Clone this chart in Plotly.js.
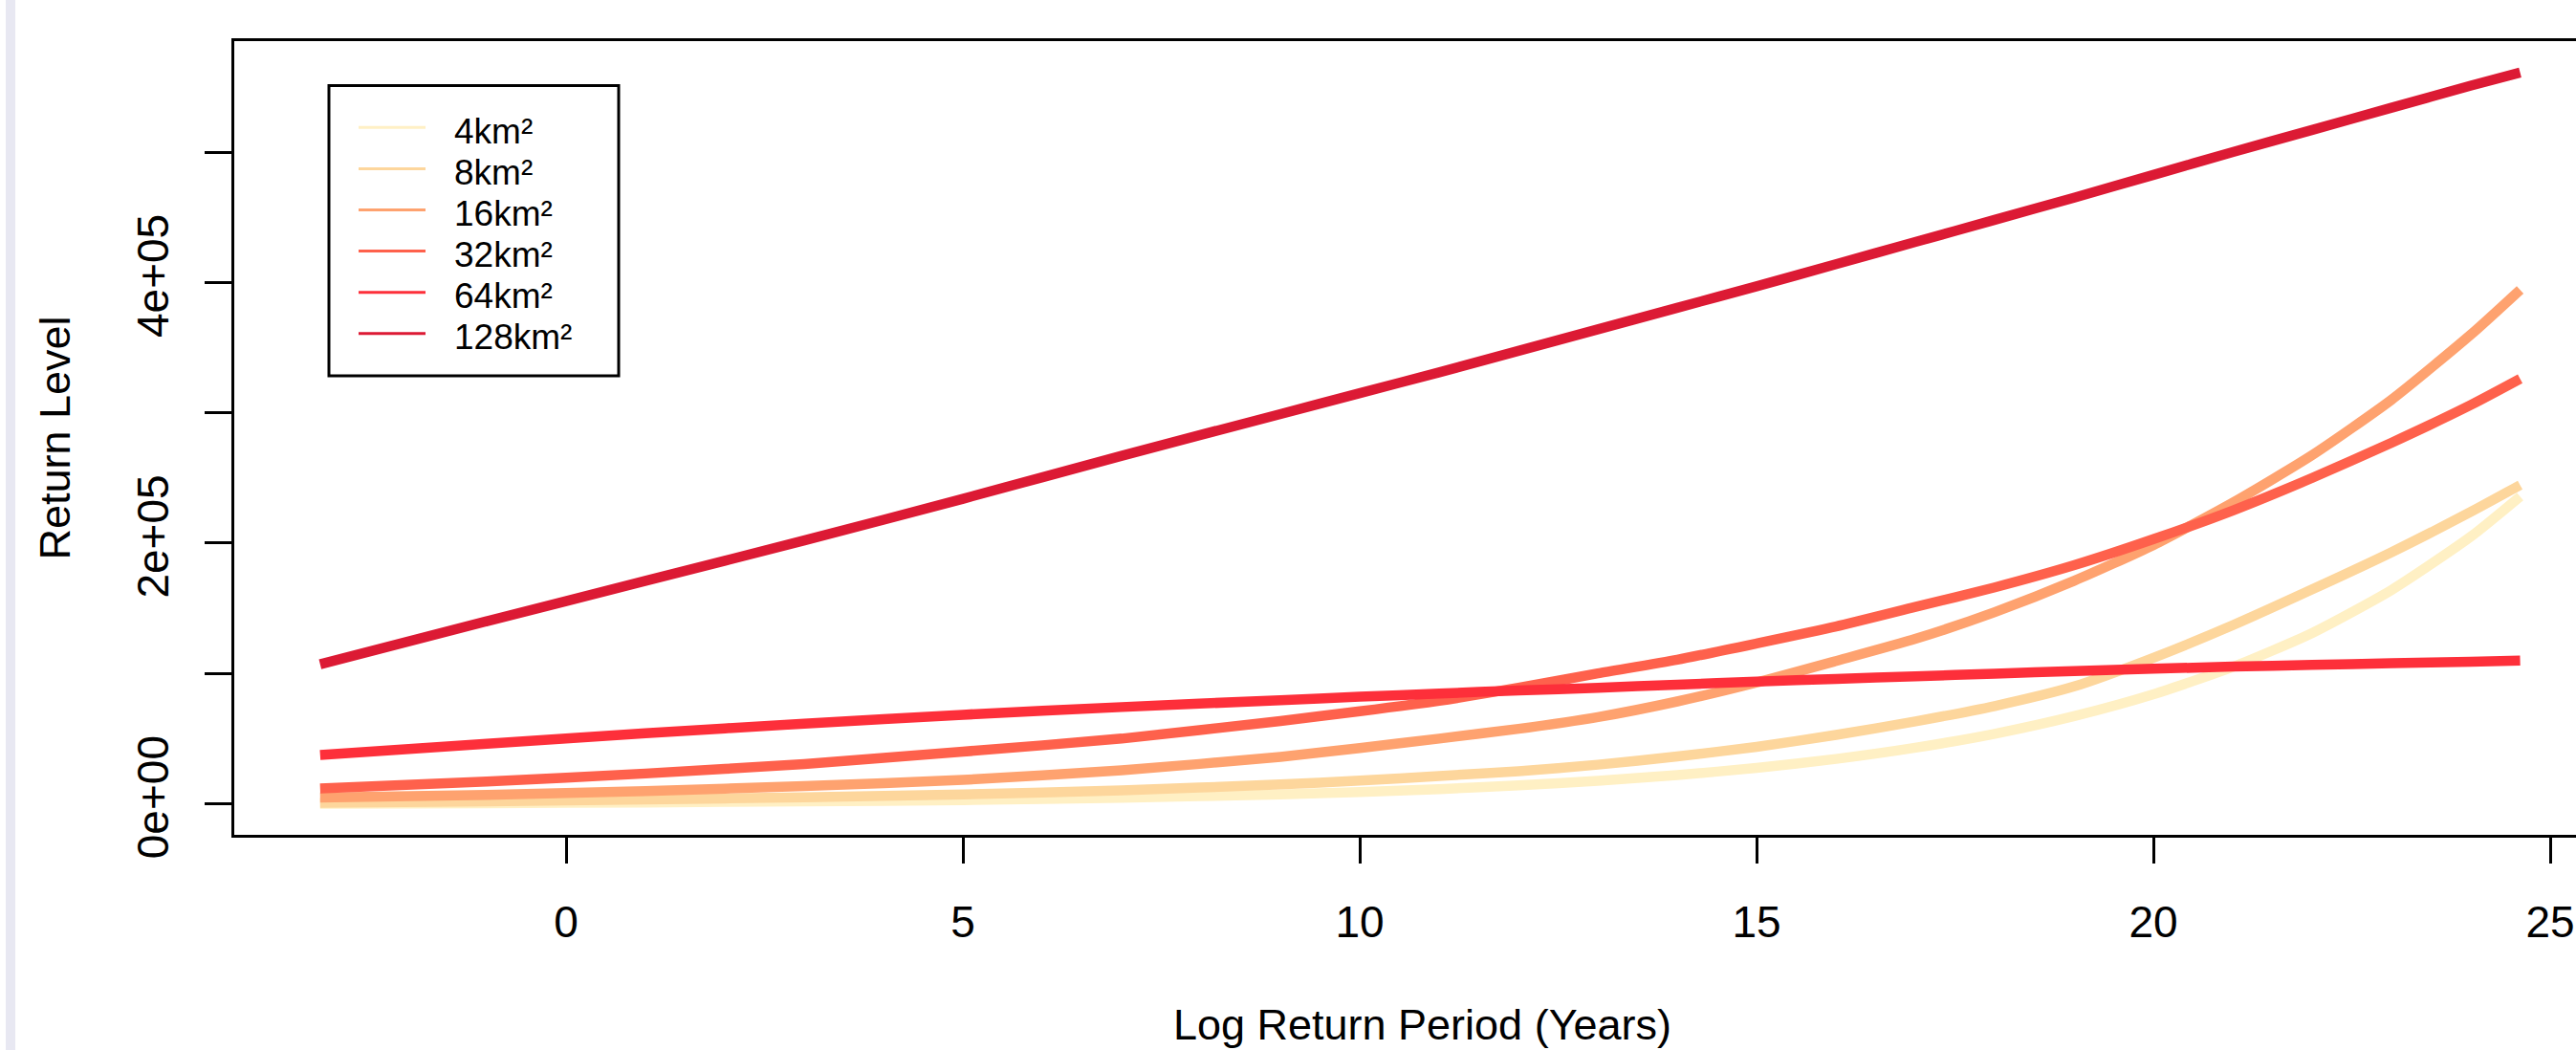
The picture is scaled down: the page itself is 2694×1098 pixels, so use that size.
<!DOCTYPE html>
<html><head><meta charset="utf-8">
<script src="https://cdn.plot.ly/plotly-3.0.1.min.js"></script>
<style>html,body{margin:0;padding:0;overflow:hidden;background:#fff;} #chart{width:2760px;height:1098px;}</style>
</head><body><div id="chart"></div>
<script>
// Log return period (years) sample positions
const logReturnPeriod = [-3.1, -1, 1, 3, 5, 7, 9, 10, 11, 12, 13, 14, 15, 16, 17, 18, 19, 20, 21, 22, 23, 24, 24.62];
// Return levels per area
const level4km   = [0, 400, 1000, 1800, 2800, 4600, 7200, 9000, 11200, 14100, 17600, 22000, 27500, 34400, 43000, 53700, 67200, 84000, 105000, 131000, 164000, 205000, 235700];
const level8km   = [800, 1800, 3300, 5000, 7200, 10300, 14800, 17800, 21300, 25000, 30000, 36300, 43700, 52800, 63200, 75000, 90000, 112000, 137000, 164500, 193000, 224000, 244500];
const level16km  = [4800, 6800, 9800, 13500, 18300, 25700, 36000, 42800, 50000, 57500, 66500, 78500, 93000, 109500, 126500, 147000, 171000, 198500, 231000, 267500, 310000, 360000, 394300];
const level32km  = [11700, 17000, 23200, 30500, 40000, 50000, 63500, 71000, 79000, 89000, 100000, 110500, 123000, 136000, 151000, 166000, 183000, 203000, 225000, 250000, 277000, 306000, 326000];
const level64km  = [37400, 46000, 54100, 61500, 68300, 74200, 79500, 82100, 84600, 86900, 89000, 91400, 93700, 95800, 97800, 99800, 101800, 103600, 105200, 106600, 107800, 109000, 109900];
const level128km = [107000, 140000, 171000, 202000, 234000, 267000, 299000, 315000, 331000, 347500, 364000, 380500, 397000, 414000, 431000, 448000, 465000, 482500, 500000, 517000, 534000, 551000, 561000];

const seriesLabels = ['4km²', '8km²', '16km²', '32km²', '64km²', '128km²'];
const seriesColors = ['#FFF0C4', '#FDD69C', '#FEA26F', '#FE614C', '#FD2F3A', '#DC1A34'];
const seriesValues = [level4km, level8km, level16km, level32km, level64km, level128km];

const xTickVals = [0, 5, 10, 15, 20, 25];
const yTickVals = [0, 100000, 200000, 300000, 400000, 500000];
const yTickText = ['0e+00', '', '2e+05', '', '4e+05', ''];

const W = 2760, H = 1098, ML = 245, MR = 30, MT = 43, MB = 225;
const PW = W - ML - MR, PH = H - MT - MB;
const px = p => (p - ML) / PW;
const py = p => 1 - (p - MT) / PH;
const FONT = 'Liberation Sans, Arial, Helvetica, sans-serif';

const traces = seriesValues.map((vals, i) => ({
  type: 'scatter', mode: 'lines', x: logReturnPeriod, y: vals, name: seriesLabels[i],
  line: {color: seriesColors[i], width: 10.5, shape: 'spline', smoothing: 0.6},
  showlegend: false, hoverinfo: 'skip'
}));

const shapes = [
  // left lavender strip of the screenshot
  {type: 'rect', xref: 'paper', yref: 'paper', x0: px(6), x1: px(16), y0: py(H), y1: py(0),
   fillcolor: '#E8E8F2', line: {width: 0}, layer: 'below'},
  // legend box
  {type: 'rect', xref: 'paper', yref: 'paper', x0: px(344), x1: px(647), y0: py(393), y1: py(89.5),
   fillcolor: 'rgba(255,255,255,0)', line: {color: '#000', width: 3}, layer: 'above'}
];
const annotations = [];
seriesLabels.forEach((lab, i) => {
  const rowY = 133.3 + i * 43.1;
  shapes.push({type: 'line', xref: 'paper', yref: 'paper', x0: px(375), x1: px(445), y0: py(rowY), y1: py(rowY),
    line: {color: seriesColors[i], width: 3}, layer: 'above'});
  annotations.push({xref: 'paper', yref: 'paper', x: px(473), y: py(rowY + 4), xanchor: 'left', yanchor: 'middle',
    text: lab, showarrow: false, font: {family: FONT, size: 37, color: '#000'}});
});

const layout = {
  width: W, height: H,
  margin: {l: ML, r: MR, t: MT, b: MB, pad: 0},
  paper_bgcolor: '#fff', plot_bgcolor: '#fff',
  font: {family: FONT, size: 46, color: '#000'},
  showlegend: false,
  xaxis: {
    range: [-4.182, -4.182 + PW / 83.0],
    tickvals: xTickVals, ticktext: xTickVals.map(String),
    ticks: 'outside', ticklen: 27, tickwidth: 3, tickcolor: '#000',
    showline: true, linewidth: 3, linecolor: '#000', mirror: true,
    showgrid: false, zeroline: false,
    tickfont: {family: FONT, size: 46, color: '#000'},
    ticklabelstandoff: 22,
    title: {text: 'Log Return Period (Years)', font: {family: FONT, size: 45, color: '#000'}, standoff: 67}
  },
  yaxis: {
    range: [-(873 - 840.5) / 136.3 * 1e5, (840.5 - 43) / 136.3 * 1e5],
    tickvals: yTickVals, ticktext: yTickText, tickangle: -90,
    ticks: 'outside', ticklen: 28, tickwidth: 3, tickcolor: '#000',
    showline: true, linewidth: 3, linecolor: '#000', mirror: true,
    showgrid: false, zeroline: false,
    tickfont: {family: FONT, size: 46, color: '#000'},
    ticklabelstandoff: 20,
    title: {text: 'Return Level', font: {family: FONT, size: 45, color: '#000'}, standoff: 46}
  },
  shapes: shapes,
  annotations: annotations
};

Plotly.newPlot('chart', traces, layout, {displayModeBar: false, staticPlot: true});
</script>
</body></html>
